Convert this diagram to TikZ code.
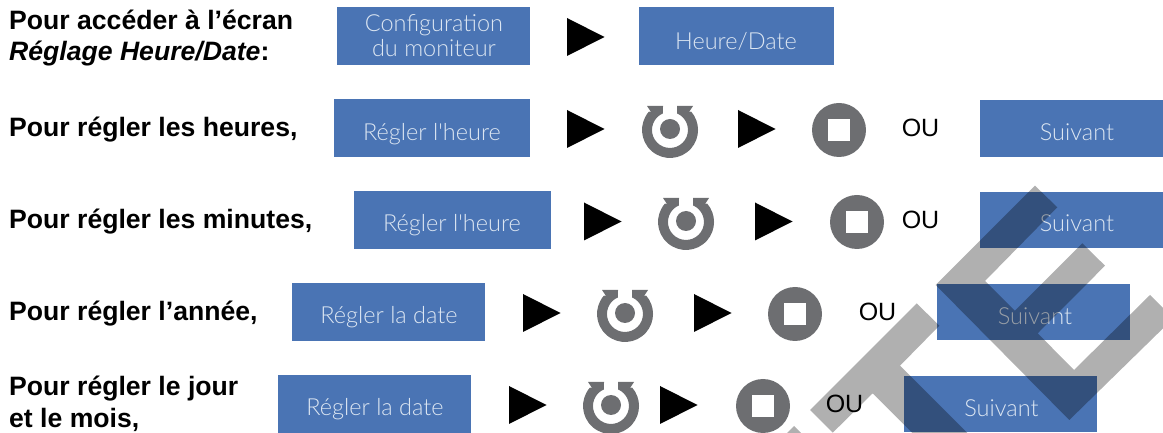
\documentclass[tikz,border=0pt]{standalone}
\usepackage{fontspec}
\setmainfont{Liberation Sans}
\newfontfamily\btnfont{Lato}[UprightFont=* Light]
\definecolor{btnblue}{HTML}{4A74B4}
\definecolor{btntext}{HTML}{DCE6F2}
\definecolor{icongray}{HTML}{6D6E71}
\tikzset{
  x=1bp,y=1bp,
  btn/.style={fill=btnblue,draw=none,inner sep=0pt,outer sep=0pt},
  btnlabel/.style={text=btntext,inner sep=0pt,align=center,font=\btnfont\fontsize{23.5bp}{25bp}\selectfont},
  lead/.style={anchor=base west,inner sep=0pt,align=left,font=\fontsize{26.6bp}{31.5bp}\selectfont\bfseries},
  ou/.style={inner sep=0pt,font=\fontsize{25bp}{30bp}\selectfont},
  wm/.style={fill=black,fill opacity=0.31,draw=none},
  playtri/.pic={\fill[black] (0,19) -- (37.5,0) -- (0,-19) -- cycle;},
  stopicon/.pic={\fill[icongray] (0,0) circle[radius=27];\fill[white] (-11,-11) rectangle (11,11);},
  refreshicon/.pic={
    \fill[icongray] (0,1) circle[radius=10];
    \fill[icongray] (23,24) -- (7,24) -- (7,16.6) arc[start angle=67,end angle=-247,radius=18]
      -- (-7,24) -- (-23,24) -- (-19,18) -- (-21.1,18.4) arc[start angle=139,end angle=401,radius=28] -- (19,18) -- cycle;
  }
}
\begin{document}
\begin{tikzpicture}
\useasboundingbox (0,-433) rectangle (1163,0);
% buttons
\fill[btn] (337,-7) rectangle (530,-65);
\fill[btn] (639,-7) rectangle (834,-65);
\fill[btn] (334,-99) rectangle (530,-157);
\fill[btn] (980,-100) rectangle (1163,-157);
\fill[btn] (354,-191) rectangle (551,-249);
\fill[btn] (980,-192) rectangle (1163,-248);
\fill[btn] (292,-283) rectangle (485,-341);
\fill[btn] (937,-284) rectangle (1130,-340);
\fill[btn] (278,-375) rectangle (471,-433);
\fill[btn] (904,-376) rectangle (1097,-432);
% button labels
\node[btnlabel] (cfg) at (434,-36) {Configuration\\du moniteur};
\node[btnlabel] (hd) at (736,-41.5) {Heure/Date};
\node[btnlabel] (rh1) at (432,-134.5) {Régler l'heure};
\node[btnlabel] (su1) at (1077,-132) {Suivant};
\node[btnlabel] (rh2) at (452,-225.5) {Régler l'heure};
\node[btnlabel] (su2) at (1077,-223) {Suivant};
\node[btnlabel] (rd1) at (389,-317.5) {Régler la date};
\node[btnlabel] (su3) at (1035,-316) {Suivant};
\node[btnlabel] (rd2) at (375,-409.5) {Régler la date};
\node[btnlabel] (su4) at (1001.5,-408) {Suivant};
% lead texts
\node[lead] (t1) at (9,-61) {Pour accéder à l’écran\\\textit{Réglage Heure/Date}:};
\node[lead] (t2) at (9,-137) {Pour régler les heures,};
\node[lead] (t3) at (9,-229) {Pour régler les minutes,};
\node[lead] (t4) at (9,-321) {Pour régler l’année,};
\node[lead] (t5) at (9,-427.5) {Pour régler le jour\\et le mois,};
% triangles
\pic at (567,-37) {playtri};
\pic at (567,-129) {playtri};
\pic at (738,-129) {playtri};
\pic at (584,-221.5) {playtri};
\pic at (755,-221.5) {playtri};
\pic at (523,-313) {playtri};
\pic at (694,-313) {playtri};
\pic at (509,-405) {playtri};
\pic at (660,-405) {playtri};
% icons
\pic at (670,-130) {refreshicon};
\pic at (686,-222) {refreshicon};
\pic at (625,-314) {refreshicon};
\pic at (611,-406) {refreshicon};
\pic at (839,-130) {stopicon};
\pic at (857,-222) {stopicon};
\pic at (795,-314) {stopicon};
\pic at (763,-406) {stopicon};
% OU
\node[ou] (o1) at (920.5,-127.5) {OU};
\node[ou] (o2) at (920.5,-219.5) {OU};
\node[ou] (o3) at (877.5,-311.5) {OU};
\node[ou] (o4) at (844.5,-403.5) {OU};
% watermark
\begin{scope}
\clip (0,-433) rectangle (1163,0);
\fill[wm] (935.7,-285) -- (1035,-185.7) -- (1057.3,-207.3) -- (985,-281) -- (1014.8,-310.8)
  -- (1082.3,-243.3) -- (1105,-265.7) -- (1037.7,-333.3) -- (1074,-370) -- (1150,-295)
  -- (1173.3,-318.3) -- (1069.3,-420) -- cycle;
\fill[wm] (916.7,-303.3) -- (939.3,-325.7) -- (900,-365.7) -- (1000,-465.7) -- (945,-465.7)
  -- (872.7,-393.3) -- (832.7,-432.7) -- (810,-410) -- cycle;
\fill[wm] (794,-426) -- (812,-444) -- (776,-444) -- cycle;
\end{scope}
\end{tikzpicture}
\end{document}
